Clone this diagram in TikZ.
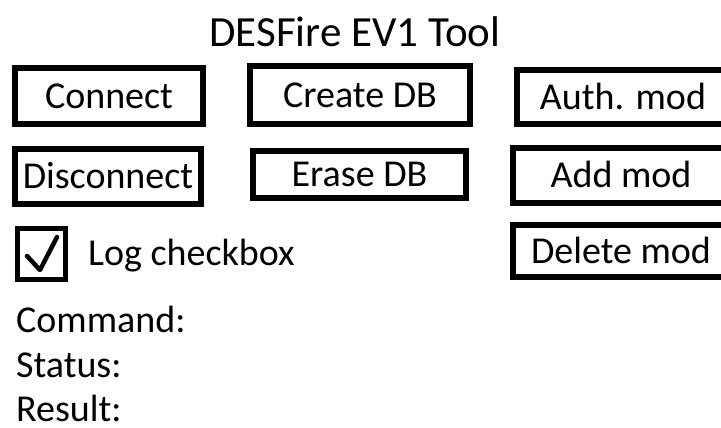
\documentclass[tikz,border=0pt]{standalone}
\usepackage{fontspec}
\setmainfont{Carlito}
\begin{document}
\begin{tikzpicture}[x=1pt,y=-1pt,
  btn/.style={draw=black,line width=6pt,rectangle,inner sep=0pt,outer sep=0pt,
    font=\fontsize{38}{40}\selectfont,text height=24.4pt,text depth=0pt,align=center},
  lbl/.style={anchor=base west,inner sep=0pt,font=\fontsize{38}{40}\selectfont},
  chk/.style={draw=black,line width=5pt,rectangle,inner sep=0pt,outer sep=0pt}]
\useasboundingbox (0,0) rectangle (721,428);
\clip (0,0) rectangle (721,428);
\fill[white] (0,0) rectangle (721,428);
\node[anchor=base,inner sep=0pt,font=\fontsize{43}{46}\selectfont] (title) at (355,47) {DESFire EV1 Tool};
\node[btn,minimum width=188pt,minimum height=56pt] (connect) at (109,96) {Connect};
\node[btn,minimum width=186pt,minimum height=55pt] (disconnect) at (108,176.5) {Disconnect};
\node[btn,minimum width=220pt,minimum height=58pt] (createdb) at (360,95.5) {Create DB};
\node[btn,minimum width=213pt,minimum height=47pt] (erasedb) at (359.5,174.5) {Erase DB};
\node[btn,minimum width=212pt,minimum height=54pt] (auth) at (623,97) {Auth. mod};
\node[btn,minimum width=216pt,minimum height=55pt] (add) at (621,175.5) {Add mod};
\node[btn,minimum width=216pt,minimum height=52pt] (delete) at (621,251) {Delete mod};
\node[chk,minimum width=48pt,minimum height=51pt] (box) at (41.5,254) {};
\coordinate (c1) at (27,256);
\coordinate (c2) at (40,270);
\coordinate (c3) at (57,237);
\draw[line width=4.5pt,line cap=round,line join=round] (c1) -- (c2) -- (c3);
\node[lbl] (log) at (88,265) {Log checkbox};
\node[lbl] (command) at (16,332) {Command:};
\node[lbl] (status) at (16,377) {Status:};
\node[lbl] (result) at (16,421) {Result:};
\end{tikzpicture}
\end{document}
